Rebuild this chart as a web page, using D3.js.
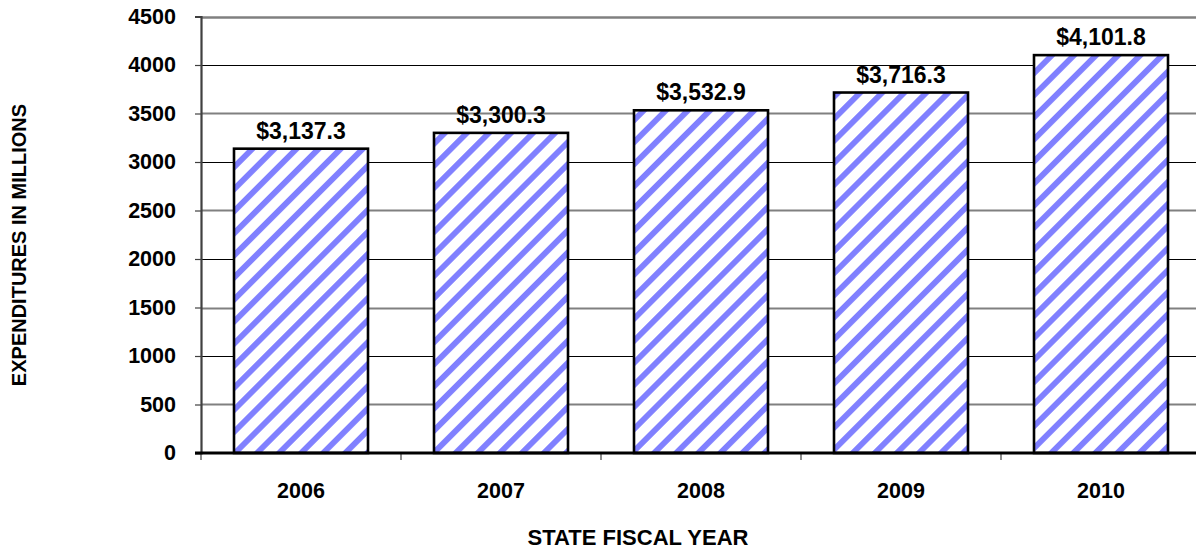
<!DOCTYPE html>
<html>
<head>
<meta charset="utf-8">
<script src="https://cdn.jsdelivr.net/npm/d3@7"></script>
<style>
  html, body { margin: 0; padding: 0; background: #fff; }
  svg text { font-family: "Liberation Sans", Arial, sans-serif; font-weight: bold; fill: #000; }
</style>
</head>
<body>
<svg id="chart" width="1196" height="552"></svg>
<script>
const years = ["2006", "2007", "2008", "2009", "2010"];
const expenditures = [3137.3, 3300.3, 3532.9, 3716.3, 4101.8];
const yTicks = [0, 500, 1000, 1500, 2000, 2500, 3000, 3500, 4000, 4500];
const yTitle = "EXPENDITURES IN MILLIONS";
const xTitle = "STATE FISCAL YEAR";

(function () {
const svg = d3.select("#chart");
const pLeft = 201, pRight = 1201, pTop = 16.5, pBottom = 453;

const x = d3.scaleBand().domain(years).range([pLeft, pRight]).paddingInner(0.33).paddingOuter(0.165);
const xb = d3.scaleBand().domain(years).range([pLeft, pRight]);
const y = d3.scaleLinear().domain([0, 4500]).range([pBottom, pTop]);

// pattern
const defs = svg.append("defs");
const pat = defs.append("pattern")
  .attr("id", "hatch").attr("patternUnits", "userSpaceOnUse")
  .attr("width", 15.6).attr("height", 10)
  .attr("patternTransform", "rotate(45)");
pat.append("rect").attr("width", 15.6).attr("height", 10).attr("fill", "#fff");
pat.append("rect").attr("width", 5.8).attr("height", 10).attr("fill", "#8080ff");

// gridlines
svg.append("g").selectAll("line").data(yTicks.filter(d => d > 0)).join("line")
  .attr("x1", pLeft).attr("x2", pRight)
  .attr("y1", d => Math.round(y(d)) + 0.5).attr("y2", d => Math.round(y(d)) + 0.5)
  .attr("stroke", d => d === 4500 ? "#808080" : (d % 1000 === 0 ? "#000" : "#808080"))
  .attr("stroke-width", d => d === 4500 ? 2.5 : (d % 1000 === 0 ? 1.2 : 1.8));

// y axis
const yAxis = d3.axisLeft(y).tickValues(yTicks).tickSize(6).tickPadding(19).tickFormat(d3.format("d"));
const gy = svg.append("g").attr("transform", `translate(${pLeft},0)`).call(yAxis);
gy.select(".domain").attr("stroke", "#404040").attr("stroke-width", 2.2);
gy.selectAll(".tick line").attr("stroke", "#404040").attr("stroke-width", 1.2);
gy.selectAll(".tick text").style("font-size", "21.5px").attr("fill", "#000");

// x axis ticks at band boundaries
const bounds = years.map(d => xb(d)).concat([pRight]);
svg.append("g").selectAll("line").data(bounds).join("line")
  .attr("x1", d => d).attr("x2", d => d)
  .attr("y1", pBottom).attr("y2", pBottom + 7)
  .attr("stroke", "#404040").attr("stroke-width", 1.2);

// bars
svg.append("g").selectAll("rect").data(years).join("rect")
  .attr("x", d => x(d)).attr("width", x.bandwidth())
  .attr("y", (d, i) => y(expenditures[i]))
  .attr("height", (d, i) => pBottom - y(expenditures[i]))
  .attr("fill", "url(#hatch)")
  .attr("stroke", "#000").attr("stroke-width", 2.6);

// x axis line
svg.append("line").attr("x1", pLeft - 6).attr("x2", pRight)
  .attr("y1", pBottom).attr("y2", pBottom)
  .attr("stroke", "#000").attr("stroke-width", 3);

// value labels
const fmt = d3.format("$,.1f");
svg.append("g").selectAll("text").data(years).join("text")
  .attr("x", d => x(d) + x.bandwidth() / 2)
  .attr("y", (d, i) => y(expenditures[i]) - 10)
  .attr("text-anchor", "middle").style("font-size", "23px")
  .text((d, i) => fmt(expenditures[i]));

// year labels
svg.append("g").selectAll("text").data(years).join("text")
  .attr("x", d => xb(d) + xb.bandwidth() / 2)
  .attr("y", 498).attr("text-anchor", "middle").style("font-size", "21.5px")
  .text(d => d);

// axis titles
svg.append("text").attr("x", 638).attr("y", 545).attr("text-anchor", "middle")
  .style("font-size", "22px").text(xTitle);
svg.append("text").attr("transform", "translate(26,245) rotate(-90)")
  .attr("text-anchor", "middle").style("font-size", "20px").text(yTitle);
})();
</script>
</body>
</html>
